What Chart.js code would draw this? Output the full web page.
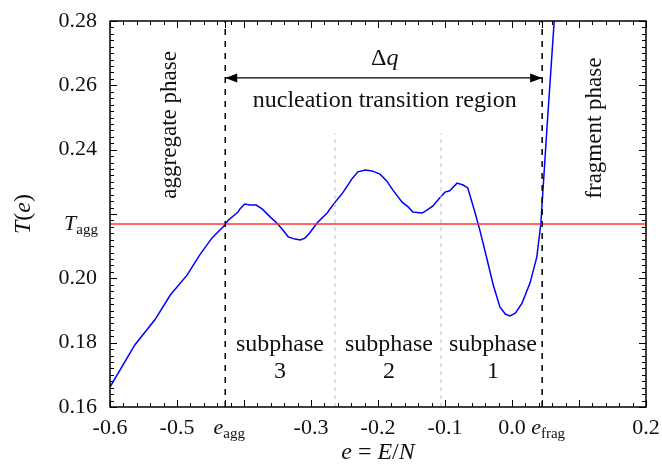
<!DOCTYPE html>
<html>
<head>
<meta charset="utf-8">
<script src="https://cdn.jsdelivr.net/npm/chart.js@4/dist/chart.umd.min.js"></script>
<style>
  html, body { margin: 0; padding: 0; background: #fff; }
  #wrap { width: 662px; height: 466px; }
</style>
</head>
<body>
<div id="wrap"><canvas id="chart" width="662" height="466"></canvas></div>
<script>
// Data
const energy = [-0.600, -0.563, -0.533, -0.510, -0.485, -0.466, -0.448, -0.436, -0.431, -0.424,
  -0.409, -0.406, -0.399, -0.391, -0.382, -0.373, -0.361, -0.351, -0.342, -0.334, -0.324, -0.316,
  -0.309, -0.302, -0.291, -0.276, -0.264, -0.254, -0.245, -0.239, -0.230, -0.219, -0.209, -0.197,
  -0.187, -0.178, -0.164, -0.155, -0.148, -0.134, -0.127, -0.118, -0.108, -0.100, -0.093, -0.082,
  -0.073, -0.066, -0.055, -0.048, -0.037, -0.028, -0.018, -0.010, -0.003, 0.005, 0.015, 0.027,
  0.037, 0.043, 0.052, 0.063, 0.067];
const temperature = [0.1662, 0.1793, 0.1871, 0.1948, 0.2010, 0.2073, 0.2125, 0.2150, 0.2160, 0.2180,
  0.2206, 0.2216, 0.2231, 0.2228, 0.2228, 0.2216, 0.2191, 0.2172, 0.2150, 0.2129, 0.2122, 0.2119,
  0.2125, 0.2141, 0.2172, 0.2203, 0.2237, 0.2262, 0.2290, 0.2309, 0.2331, 0.2337, 0.2334, 0.2324,
  0.2303, 0.2275, 0.2237, 0.2222, 0.2206, 0.2203, 0.2212, 0.2225, 0.2250, 0.2268, 0.2272, 0.2296,
  0.2290, 0.2281, 0.2203, 0.2150, 0.2057, 0.1979, 0.1911, 0.1889, 0.1883, 0.1892, 0.1923, 0.1986,
  0.2066, 0.2169, 0.2461, 0.2800, 0.2946];

const E_AGG = -0.428;
const E_FRAG = 0.045;
const T_AGG = 0.2169;
const subphaseBounds = [-0.264, -0.106];

const xTickValues = [-0.6, -0.5, E_AGG, -0.3, -0.2, -0.1, 0.0, E_FRAG, 0.2];
const xTickLabels = ['-0.6', '-0.5', '', '-0.3', '-0.2', '-0.1', '0.0', '', '0.2'];
const yTickValues = [0.16, 0.18, 0.20, T_AGG, 0.24, 0.26, 0.28];
const yTickLabels = ['0.16', '0.18', '0.20', '', '0.24', '0.26', '0.28'];

const SERIF = '"Liberation Serif"';

const curve = energy.map((e, i) => ({x: e, y: temperature[i]}));
const vline = (x, y0, y1) => [{x: x, y: y0}, {x: x, y: y1}];

// helper: draw text runs (text, font, dy) one after another
function drawRuns(ctx, runs, x, y, align) {
  let total = 0;
  runs.forEach(r => { ctx.font = r.font; total += ctx.measureText(r.text).width; });
  let cx = align === 'center' ? x - total / 2 : (align === 'right' ? x - total : x);
  ctx.textAlign = 'left';
  ctx.textBaseline = 'alphabetic';
  runs.forEach(r => {
    ctx.font = r.font;
    ctx.fillText(r.text, cx, y + (r.dy || 0));
    cx += ctx.measureText(r.text).width;
  });
}

const decorations = {
  id: 'decorations',
  afterDatasetsDraw(chart) {
    const ctx = chart.ctx;
    const xs = chart.scales.x, ys = chart.scales.y;
    const a = chart.chartArea;
    ctx.save();

    // frame
    ctx.strokeStyle = '#000';
    ctx.lineWidth = 1.5;
    ctx.strokeRect(a.left, a.top, a.right - a.left, a.bottom - a.top);

    // ticks (inward, mirrored on top and right)
    ctx.lineWidth = 1;
    ctx.beginPath();
    for (let i = 0; i <= 40; i++) {
      const v = -0.6 + i * 0.02;
      const px = Math.round(xs.getPixelForValue(v)) + 0.5;
      const len = i % 5 === 0 ? 7 : 4;
      ctx.moveTo(px, a.bottom); ctx.lineTo(px, a.bottom - len);
      ctx.moveTo(px, a.top); ctx.lineTo(px, a.top + len);
    }
    [E_AGG, E_FRAG].forEach(v => {
      const px = Math.round(xs.getPixelForValue(v)) + 0.5;
      ctx.moveTo(px, a.bottom); ctx.lineTo(px, a.bottom - 7);
      ctx.moveTo(px, a.top); ctx.lineTo(px, a.top + 7);
    });
    for (let i = 0; i <= 60; i++) {
      const v = 0.16 + i * 0.002;
      const py = Math.round(ys.getPixelForValue(v)) + 0.5;
      const len = i % 10 === 0 ? 7 : 4;
      ctx.moveTo(a.left, py); ctx.lineTo(a.left + len, py);
      ctx.moveTo(a.right, py); ctx.lineTo(a.right - len, py);
    }
    ctx.stroke();

    // arrow heads for delta q
    const ay = ys.getPixelForValue(0.2623);
    const x0 = xs.getPixelForValue(E_AGG), x1 = xs.getPixelForValue(E_FRAG);
    ctx.fillStyle = '#000';
    ctx.beginPath();
    ctx.moveTo(x0, ay); ctx.lineTo(x0 + 12, ay - 4.5); ctx.lineTo(x0 + 12, ay + 4.5); ctx.closePath();
    ctx.moveTo(x1, ay); ctx.lineTo(x1 - 12, ay - 4.5); ctx.lineTo(x1 - 12, ay + 4.5); ctx.closePath();
    ctx.fill();

    const f = '24px ' + SERIF;
    const fi = 'italic 24px ' + SERIF;
    ctx.fillStyle = '#111';
    drawRuns(ctx, [{text: '\u0394', font: f}, {text: 'q', font: fi}],
      xs.getPixelForValue(-0.19), ys.getPixelForValue(0.2688) + 8, 'center');
    ctx.textAlign = 'center';
    ctx.textBaseline = 'middle';
    ctx.font = f;
    ctx.fillText('nucleation transition region', xs.getPixelForValue(-0.19), ys.getPixelForValue(0.2551));

    // subphase labels
    [[-0.3463, '3'], [-0.1836, '2'], [-0.0284, '1']].forEach(([e, n]) => {
      const px = xs.getPixelForValue(e);
      ctx.fillText('subphase', px, ys.getPixelForValue(0.1793));
      ctx.fillText(n, px, ys.getPixelForValue(0.1709));
    });

    // rotated phase labels
    ctx.font = '23px ' + SERIF;
    [[-0.5104, 0.2477, 'aggregate phase'], [0.1239, 0.2467, 'fragment phase']].forEach(([e, t, s]) => {
      ctx.save();
      ctx.translate(xs.getPixelForValue(e), ys.getPixelForValue(t));
      ctx.rotate(-Math.PI / 2);
      ctx.fillText(s, 0, 0);
      ctx.restore();
    });

    // tick labels with subscripts
    const fi22 = 'italic 22px ' + SERIF;
    const sub = '15px ' + SERIF;
    const lblY = a.bottom + 27;
    drawRuns(ctx, [{text: 'e', font: fi22}, {text: 'agg', font: sub, dy: 4}],
      xs.getPixelForValue(E_AGG) + 4, lblY, 'center');
    drawRuns(ctx, [{text: 'e', font: fi22}, {text: 'frag', font: sub, dy: 4}],
      xs.getPixelForValue(E_FRAG) + 6, lblY, 'center');
    drawRuns(ctx, [{text: 'T', font: fi22}, {text: 'agg', font: sub, dy: 4}],
      a.left - 12, ys.getPixelForValue(T_AGG) + 6, 'right');

    // axis titles
    const fi24 = 'italic 24px ' + SERIF;
    const f24 = '24px ' + SERIF;
    drawRuns(ctx, [{text: 'e', font: fi24}, {text: ' = ', font: f24}, {text: 'E', font: fi24},
      {text: '/', font: f24}, {text: 'N', font: fi24}], (a.left + a.right) / 2, 459, 'center');
    ctx.save();
    ctx.translate(30, (a.top + a.bottom) / 2);
    ctx.rotate(-Math.PI / 2);
    drawRuns(ctx, [{text: 'T', font: fi24}, {text: '(', font: f24}, {text: 'e', font: fi24},
      {text: ')', font: f24}], 0, 0, 'center');
    ctx.restore();

    ctx.restore();
  }
};

new Chart(document.getElementById('chart'), {
  type: 'line',
  data: {
    datasets: [
      {data: vline(subphaseBounds[0], 0.16, 0.245), borderColor: '#c4c4c4', borderWidth: 1, borderDash: [4, 4]},
      {data: vline(subphaseBounds[1], 0.16, 0.245), borderColor: '#c4c4c4', borderWidth: 1, borderDash: [4, 4]},
      {data: vline(E_AGG, 0.16, 0.28), borderColor: '#000', borderWidth: 1.5, borderDash: [6, 6]},
      {data: vline(E_FRAG, 0.16, 0.28), borderColor: '#000', borderWidth: 1.5, borderDash: [6, 6]},
      {data: [{x: E_AGG, y: 0.2623}, {x: E_FRAG, y: 0.2623}], borderColor: '#000', borderWidth: 1.2},
      {data: [{x: -0.6, y: T_AGG}, {x: 0.2, y: T_AGG}], borderColor: '#ff3333', borderWidth: 1.6},
      {data: curve, borderColor: '#0000ff', borderWidth: 1.5}
    ]
  },
  options: {
    responsive: false,
    animation: false,
    devicePixelRatio: 1,
    layout: {padding: {top: 21, right: 16, left: 0, bottom: 0}},
    elements: {point: {radius: 0}, line: {tension: 0, fill: false}},
    plugins: {legend: {display: false}, tooltip: {enabled: false}},
    scales: {
      x: {
        type: 'linear', min: -0.6, max: 0.2,
        grid: {display: false, drawTicks: false},
        border: {display: false},
        afterBuildTicks: s => { s.ticks = xTickValues.map(v => ({value: v})); },
        afterFit: s => { s.height = 59; s.paddingLeft = 0; s.paddingRight = 0; },
        ticks: {
          padding: 8, color: '#111', maxRotation: 0, autoSkip: false,
          font: {family: SERIF, size: 22},
          callback: (v, i) => xTickLabels[i]
        }
      },
      y: {
        type: 'linear', min: 0.16, max: 0.28,
        grid: {display: false, drawTicks: false},
        border: {display: false},
        afterBuildTicks: s => { s.ticks = yTickValues.map(v => ({value: v})); },
        afterFit: s => { s.width = 110; s.paddingTop = 0; s.paddingBottom = 0; },
        ticks: {
          padding: 13, color: '#111', autoSkip: false,
          font: {family: SERIF, size: 22},
          callback: (v, i) => yTickLabels[i]
        }
      }
    }
  },
  plugins: [decorations]
});
</script>
</body>
</html>
